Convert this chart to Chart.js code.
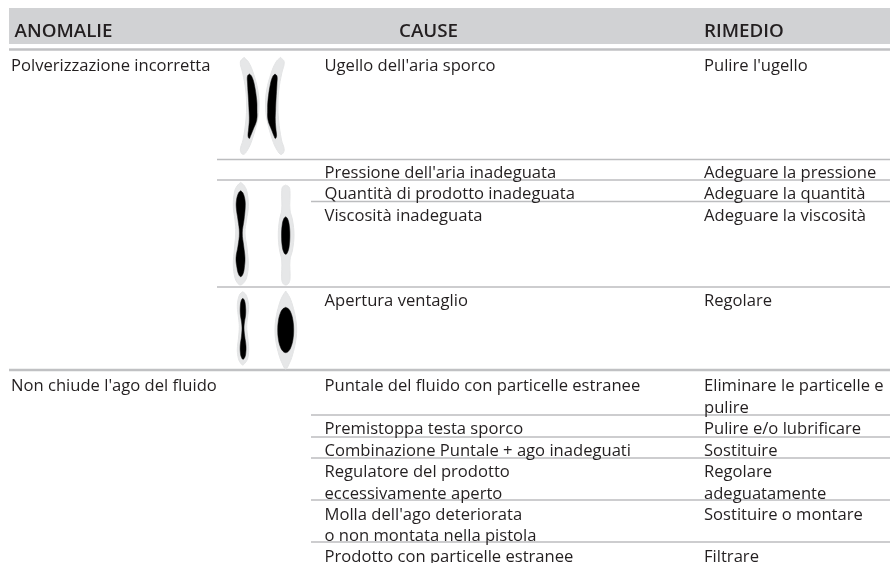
<!DOCTYPE html>
<html><head><meta charset="utf-8">
<style>html,body{margin:0;padding:0;background:#fff}#w{width:890px;height:563px}</style>
<script src="https://cdn.jsdelivr.net/npm/chart.js@4"></script></head>
<body><div id="w"><canvas id="c"></canvas></div>
<script>
const headers = ["ANOMALIE","CAUSE","RIMEDIO"];
const headerX = [14.5,399,704];
const anomalies = [["Polverizzazione incorretta",71],["Non chiude l'ago del fluido",391]];
const causes = [["Ugello dell'aria sporco",71],["Pressione dell'aria inadeguata",177.5],["Quantità di prodotto inadeguata",199],["Viscosità inadeguata",221],["Apertura ventaglio",306],["Puntale del fluido con particelle estranee",391],["Premistoppa testa sporco",434],["Combinazione Puntale + ago inadeguati",455.5],["Regulatore del prodotto",477],["eccessivamente aperto",498.5],["Molla dell'ago deteriorata",519.5],["o non montata nella pistola",540.5],["Prodotto con particelle estranee",561.5]];
const remedies = [["Pulire l'ugello",71],["Adeguare la pressione",177.5],["Adeguare la quantità",199],["Adeguare la viscosità",221],["Regolare",306],["Eliminare le particelle e",391],["pulire",413],["Pulire e/o lubrificare",434],["Sostituire",455.5],["Regolare",477],["adeguatamente",498.5],["Sostituire o montare",519.5],["Filtrare",561.5]];
const thinRules = [[217,159.5],[217,180],[311,201.5],[217,287],[311,415],[311,437],[311,458],[311,500],[311,542]];
const thickRules = [[9,49.5],[9,370]];
// spray patterns: rows of [y, left x, right x]
const sprayHalo = [
 [[57.3,244,244],[62,240.3,248.5],[73,242.7,253.3],[90,245.7,257.8],[105,246.5,259],[120,245.9,257.5],[140,243,252],[150,240.3,247.5],[154.5,243.3,243.3]],
 [[57.3,280.5,280.5],[62,276,284.2],[73,271.2,281.8],[90,266.7,278.8],[105,265.5,278],[120,267,278.6],[140,272.5,281.5],[150,277,284.2],[154.5,281.2,281.2]],
 [[182.3,240.7,240.7],[186,237,244.5],[192,234.5,247],[206.7,233.3,248.3],[220,235,246.5],[233,235.7,245],[248,234.5,247],[265,233.3,248.3],[278,235,246.5],[283,237.5,243.5],[285,240.3,240.3]],
 [[185,285.7,285.7],[187,282.5,289],[192,281.7,290],[210,281.7,290],[220,279.5,292.5],[235,278.3,294],[250,279.5,292.5],[260,281.7,290],[279,281.7,290],[283.5,283,288.5],[285,285.7,285.7]],
 [[291.7,242.7,242.7],[294,240,245.5],[299,238.2,247.5],[306.7,237.3,248.7],[318,238.5,247.5],[326.7,239.3,246.7],[338,238.5,247.8],[350,237.3,248.7],[359,238.5,247.5],[363,240.5,245],[365,242.7,242.7]],
 [[291,285.7,285.7],[297,282,289.5],[305,279,292.5],[318,276,295.5],[330,275,296.7],[342,276,295.5],[355,279,292.5],[363,282,289.5],[369,285.7,285.7]]
];
const sprayCore = [
 [[74,249.5,249.5],[76,247.5,251.5],[83,247.5,254],[100,248.5,256.7],[110,249,257],[120,249.3,256.7],[130,248.5,253],[136,248,250.5],[138.5,249.3,249.3]],
 [[74,275,275],[76,273,277],[83,270.6,277],[100,268,276],[110,267.6,275.6],[120,268,275.3],[130,271.6,276],[136,274,276.6],[138.5,275.3,275.3]],
 [[190.7,240.7,240.7],[193,238.5,243],[200,236.5,245],[208,236.3,245.2],[220,238,244],[233,239.4,242.3],[246,238,243.7],[258,236,245],[268,237,244.3],[274,238.5,243],[276.7,240.7,240.7]],
 [[216.7,285.7,285.7],[218.5,283.9,287.5],[224,282.3,289.1],[235,281.5,289.9],[247,282.3,289.1],[252.5,283.9,287.5],[254.3,285.7,285.7]],
 [[298.3,242.8,242.8],[300.5,241.2,244.5],[306,240.3,245.5],[314,240.3,245.7],[322,241.5,244.5],[328,242,244],[336,241.5,244.7],[346,240.2,246],[354,240.5,245.7],[357.5,241.5,244.7],[359.3,243,243]],
 [[307.3,285.7,285.7],[309,282.7,288.7],[313,280.4,291],[320,278.5,292.9],[330,277.7,293.7],[340,278.5,292.9],[347,280.4,291],[351,282.7,288.7],[352.7,285.7,285.7]]
];
const outline = rows => {
  const pts = rows.map(r => ({x:r[1],y:r[0]}));
  for (let i = rows.length-2; i >= 0; i--) pts.push({x:rows[i][2],y:rows[i][0]});
  return pts;
};
const datasets=[];
for(const s of sprayCore)datasets.push({type:'line',data:outline(s),showLine:true,tension:0.4,fill:'shape',backgroundColor:'#000',borderColor:'#111',borderWidth:0.5,pointRadius:0});
for(const s of sprayHalo)datasets.push({type:'line',data:outline(s),showLine:true,tension:0.4,fill:'shape',backgroundColor:'#e6e7e8',borderColor:'#e3e4e5',borderWidth:1,pointRadius:0});
for(const r of thickRules)datasets.push({type:'line',data:[{x:r[0],y:r[1]},{x:890,y:r[1]}],borderColor:'#c0c1c3',borderWidth:2.5,pointRadius:0});
for(const r of thinRules)datasets.push({type:'line',data:[{x:r[0],y:r[1]},{x:890,y:r[1]}],borderColor:'#bcbdbf',borderWidth:1.5,pointRadius:0});
datasets.push({type:'line',data:[{x:9,y:26},{x:890,y:26}],borderColor:'#d1d2d4',borderWidth:36,pointRadius:0,borderCapStyle:'butt'});
const textPlugin={id:'t',afterDatasetsDraw(ch){const c=ch.ctx,X=ch.scales.x,Y=ch.scales.y;c.save();c.fillStyle='#231f20';c.textBaseline='alphabetic';
 c.font='600 18.8px "Open Sans"';headers.forEach((h,i)=>c.fillText(h,X.getPixelForValue(headerX[i]),Y.getPixelForValue(37)));
 const draw=(a,x)=>a.forEach(r=>c.fillText(r[0],X.getPixelForValue(x),Y.getPixelForValue(r[1])));
 c.font='16.6px "Open Sans"';draw(anomalies,11);draw(causes,324.5);draw(remedies,704);
 c.restore();}};
new Chart(document.getElementById('c'),{type:'scatter',data:{datasets},plugins:[textPlugin],options:{responsive:true,maintainAspectRatio:false,animation:false,layout:{padding:0},plugins:{legend:{display:false},tooltip:{enabled:false}},scales:{x:{type:'linear',min:0,max:890,display:false},y:{type:'linear',min:0,max:563,reverse:true,display:false}}}});
</script></body></html>
